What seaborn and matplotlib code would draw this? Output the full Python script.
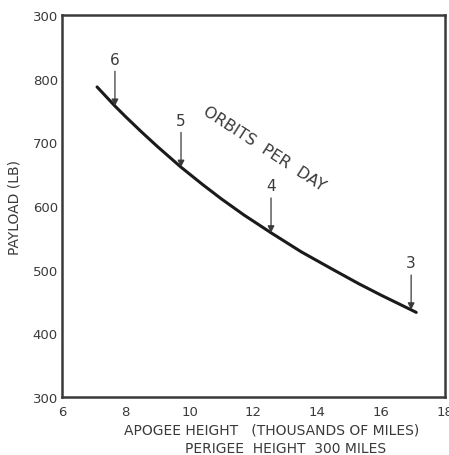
import matplotlib
matplotlib.use("Agg")
import matplotlib.pyplot as plt
import seaborn as sns
import pandas as pd

# curve
apogee = [7.1, 7.66, 8.0, 8.5, 9.0, 9.73, 10.4, 11.0, 11.7, 12.55,
          13.5, 14.5, 15.3, 16.0, 16.94, 17.1]
payload = [787, 757, 740, 716, 693, 661, 634, 611, 586, 558,
           528, 500, 478, 460, 437, 433]

# orbits per day markers
orbit_labels = ["6", "5", "4", "3"]
orbit_x = [7.66, 9.73, 12.55, 16.94]
orbit_y = [757, 661, 558, 437]

x_ticks = [6, 8, 10, 12, 14, 16, 18]
x_tick_labels = ["6", "8", "10", "12", "14", "16", "18"]
y_ticks = [300, 400, 500, 600, 700, 800, 900]
y_tick_labels = ["300", "400", "500", "600", "700", "800", "300"]

sns.set_theme(style="white")
plt.rcParams["font.family"] = ["DejaVu Sans"]

ink = "#3a3a3a"
fig = plt.figure(figsize=(4.49, 4.56), dpi=100)
ax = fig.add_axes([0.138, 0.127, 0.853, 0.838])

df = pd.DataFrame({"apogee": apogee, "payload": payload})
sns.lineplot(data=df, x="apogee", y="payload", color="#1a1a1a", linewidth=2.2, ax=ax)

for lab, x, y in zip(orbit_labels, orbit_x, orbit_y):
    ax.annotate(
        lab, xy=(x, y), xytext=(x, y + 62),
        ha="center", va="bottom", fontsize=11, color=ink,
        arrowprops=dict(arrowstyle="-|>", color=ink, lw=0.9,
                        shrinkA=1, shrinkB=0, mutation_scale=10),
    )

ax.text(10.45, 752, "ORBITS  PER  DAY", rotation=-33, ha="left", va="center",
        fontsize=11.5, color=ink, rotation_mode="anchor")

ax.set_xlim(6, 18)
ax.set_ylim(300, 900)
ax.set_xticks(x_ticks)
ax.set_xticklabels(x_tick_labels)
ax.set_yticks(y_ticks)
ax.set_yticklabels(y_tick_labels)
ax.tick_params(direction="in", length=9, width=1.2, color=ink,
               labelsize=9.5, labelcolor=ink, pad=3)
ax.tick_params(axis="x", pad=6)
for s in ax.spines.values():
    s.set_color(ink)
    s.set_linewidth(1.8)

ax.set_xlabel("")
ax.set_ylabel("PAYLOAD (LB)", fontsize=10, color=ink, labelpad=8)

fig.text(0.605, 0.057, "APOGEE HEIGHT   (THOUSANDS OF MILES)", ha="center",
         va="center", fontsize=10, color=ink)
fig.text(0.635, 0.016, "PERIGEE  HEIGHT  300 MILES", ha="center",
         va="center", fontsize=10, color=ink)

fig.savefig("out.png", dpi=100)
